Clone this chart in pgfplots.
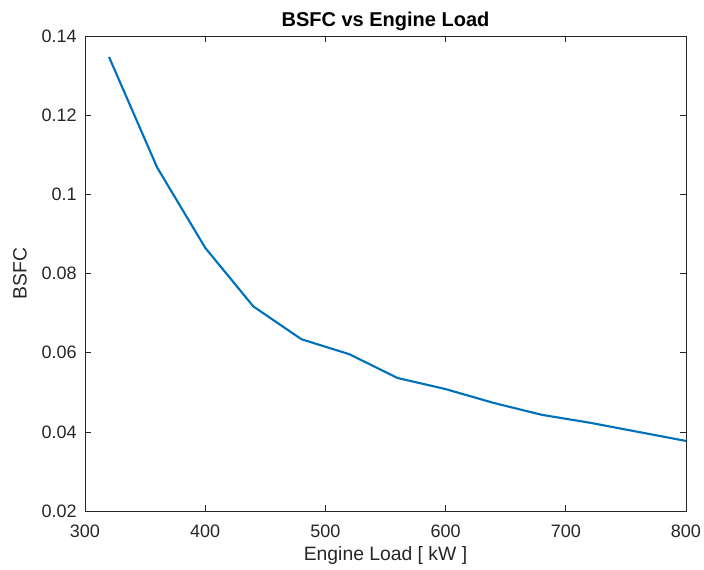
\documentclass[border=0pt]{standalone}
\usepackage{pgfplots}
\pgfplotsset{compat=1.18}
\usepackage{fontspec}
\setmainfont{Liberation Sans}
\definecolor{mblue}{rgb}{0,0.447,0.741}
\definecolor{axgray}{rgb}{0.15,0.15,0.15}
\begin{document}
\begin{tikzpicture}[x=0.75pt,y=0.75pt]
\begin{axis}[
  at={(0,0)}, anchor=south west,
  scale only axis,
  width=450.75pt, height=356.25pt,
  xmin=300, xmax=800, ymin=0.02, ymax=0.14,
  xtick={300,400,...,800},
  ytick={0.02,0.04,...,0.14},
  yticklabels={0.02,0.04,0.06,0.08,0.1,0.12,0.14},
  /pgf/number format/assume math mode=true,
  tick align=inside,
  major tick length=4.5pt,
  axis line style={axgray, line width=0.5pt},
  tick style={axgray, line width=0.5pt},
  ticklabel style={font=\fontsize{13.5}{15}\selectfont, text=axgray},
  xticklabel style={anchor=base, inner sep=0pt, yshift=-19.5pt},
  yticklabel style={anchor=east, inner sep=0pt, xshift=-6pt},
  every axis title shift=0pt,
  title={\textbf{BSFC vs Engine Load}},
  title style={font=\fontsize{15}{17}\selectfont, at={(axis description cs:0.5,1.019)}, anchor=base, inner sep=0pt},
  xlabel={Engine Load [ kW ]},
  ylabel={BSFC},
  label style={font=\fontsize{14.5}{16}\selectfont, text=axgray},
  xlabel style={at={(axis description cs:0.5,-0.1032)}, anchor=base, inner sep=0pt},
  ylabel style={at={(axis description cs:-0.0965,0.5)}, anchor=south, inner sep=0pt},
]
\addplot[mblue, line width=1.6pt] coordinates {
(320,0.1347) (360,0.1068) (400,0.0865) (440,0.0717) (480,0.0634)
(520,0.0596) (560,0.0536) (600,0.0508) (640,0.0473) (680,0.0443)
(720,0.0423) (760,0.0400) (800,0.0377)
};
\end{axis}
\pgfresetboundingbox
\path (-85,-58) rectangle (619,511);
\end{tikzpicture}
\end{document}
